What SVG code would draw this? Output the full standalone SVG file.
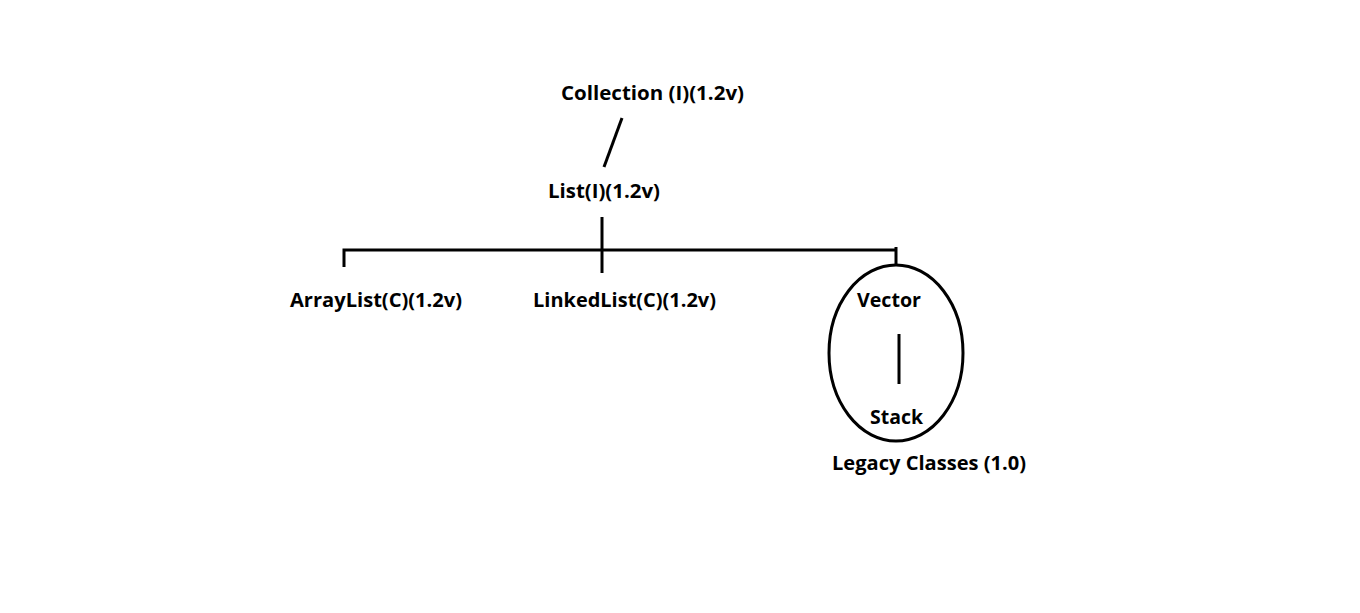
<svg xmlns="http://www.w3.org/2000/svg" width="1360" height="613" viewBox="0 0 1360 613">
<style>
text{font-family:"Open Sans","Liberation Sans",sans-serif;font-weight:bold;font-size:19px;fill:#000}
.c{stroke:#000;stroke-width:3;fill:none}
</style>
<rect width="1360" height="613" fill="#fff"/>
<g id="connectors">
<line class="c" x1="622" y1="118" x2="604" y2="167"/>
<line class="c" x1="602" y1="217" x2="602" y2="273"/>
<polyline class="c" points="344,267 344,250 897,250"/>
<line class="c" x1="896" y1="247" x2="896" y2="266"/>
<line class="c" x1="899" y1="334" x2="899" y2="384"/>
</g>
<g id="collection"><text x="561" y="100" textLength="183" lengthAdjust="spacingAndGlyphs">Collection (I)(1.2v)</text></g>
<g id="list"><text x="548" y="198" textLength="112" lengthAdjust="spacingAndGlyphs">List(I)(1.2v)</text></g>
<g id="arraylist"><text x="290" y="307" textLength="172" lengthAdjust="spacingAndGlyphs">ArrayList(C)(1.2v)</text></g>
<g id="linkedlist"><text x="533" y="307" textLength="183" lengthAdjust="spacingAndGlyphs">LinkedList(C)(1.2v)</text></g>
<g id="legacy">
<ellipse class="c" cx="896" cy="353" rx="67" ry="88"/>
<text x="857" y="307" textLength="64" lengthAdjust="spacingAndGlyphs">Vector</text>
<text x="870" y="424" textLength="53" lengthAdjust="spacingAndGlyphs">Stack</text>
<text x="832" y="470" textLength="194" lengthAdjust="spacingAndGlyphs">Legacy Classes (1.0)</text>
</g>
</svg>
